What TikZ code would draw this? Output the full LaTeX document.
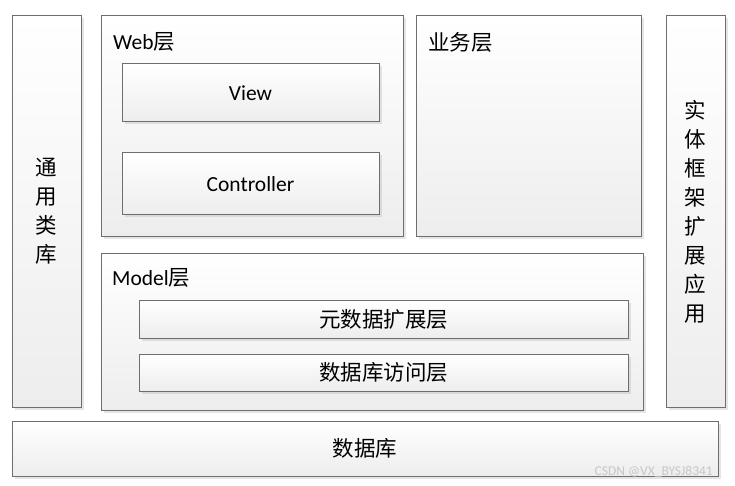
\documentclass[tikz,border=0pt]{standalone}
\usepackage{fontspec}
\setmainfont{Carlito}
\newfontfamily\cjk{Noto Sans CJK SC}
\usetikzlibrary{shadows}
\definecolor{edge}{HTML}{6E6E6E}
\tikzset{
  layerbox/.style={draw=edge, line width=1pt, top color=white, bottom color=black!7,
    drop shadow={shadow xshift=2.5pt, shadow yshift=-2.5pt, opacity=0.25, fill=black!40}},
  boxtext/.style={font=\fontsize{21.5}{29}\selectfont, inner sep=0pt},
  titletext/.style={font=\fontsize{21.5}{24}\selectfont, anchor=west, inner sep=0pt}
}
\begin{document}
\begin{tikzpicture}[x=1pt,y=-1pt]
\useasboundingbox[fill=white] (0,0) rectangle (735,486);
% outer boxes
\path[layerbox] (12,16) rectangle (81,407);
\node[boxtext, align=center] (common) at (46.5,211.5) {\cjk 通\\ \cjk 用\\ \cjk 类\\ \cjk 库};
\path[layerbox] (101,16) rectangle (403,236);
\node[titletext] (web) at (113,42) {Web{\cjk 层}};
\path[layerbox] (122,64) rectangle (379,122);
\node[boxtext] (view) at (250.5,93) {View};
\path[layerbox] (122,153) rectangle (379,215);
\node[boxtext] (ctrl) at (250.5,184) {Controller};
\path[layerbox] (416,16) rectangle (641,236);
\node[titletext] (biz) at (428,42) {\cjk 业务层};
\path[layerbox] (666,16) rectangle (725,407);
\node[boxtext, align=center] (entity) at (695.5,212) {\cjk 实\\ \cjk 体\\ \cjk 框\\ \cjk 架\\ \cjk 扩\\ \cjk 展\\ \cjk 应\\ \cjk 用};
\path[layerbox] (101,253) rectangle (643,410);
\node[titletext] (model) at (112,278) {Model{\cjk 层}};
\path[layerbox] (139,300) rectangle (628,338);
\node[boxtext] (meta) at (383.5,319) {\cjk 元数据扩展层};
\path[layerbox] (139,354) rectangle (628,391);
\node[boxtext] (dao) at (383.5,372.5) {\cjk 数据库访问层};
\path[layerbox] (12,421) rectangle (718,476);
\node[boxtext] (db) at (365,448.5) {\cjk 数据库};
\node[font=\fontsize{13.5}{15}\selectfont, text=black!22, anchor=east, inner sep=0pt] (wm) at (713,472) {CSDN @VX\_BYSJ8341};
\end{tikzpicture}
\end{document}
